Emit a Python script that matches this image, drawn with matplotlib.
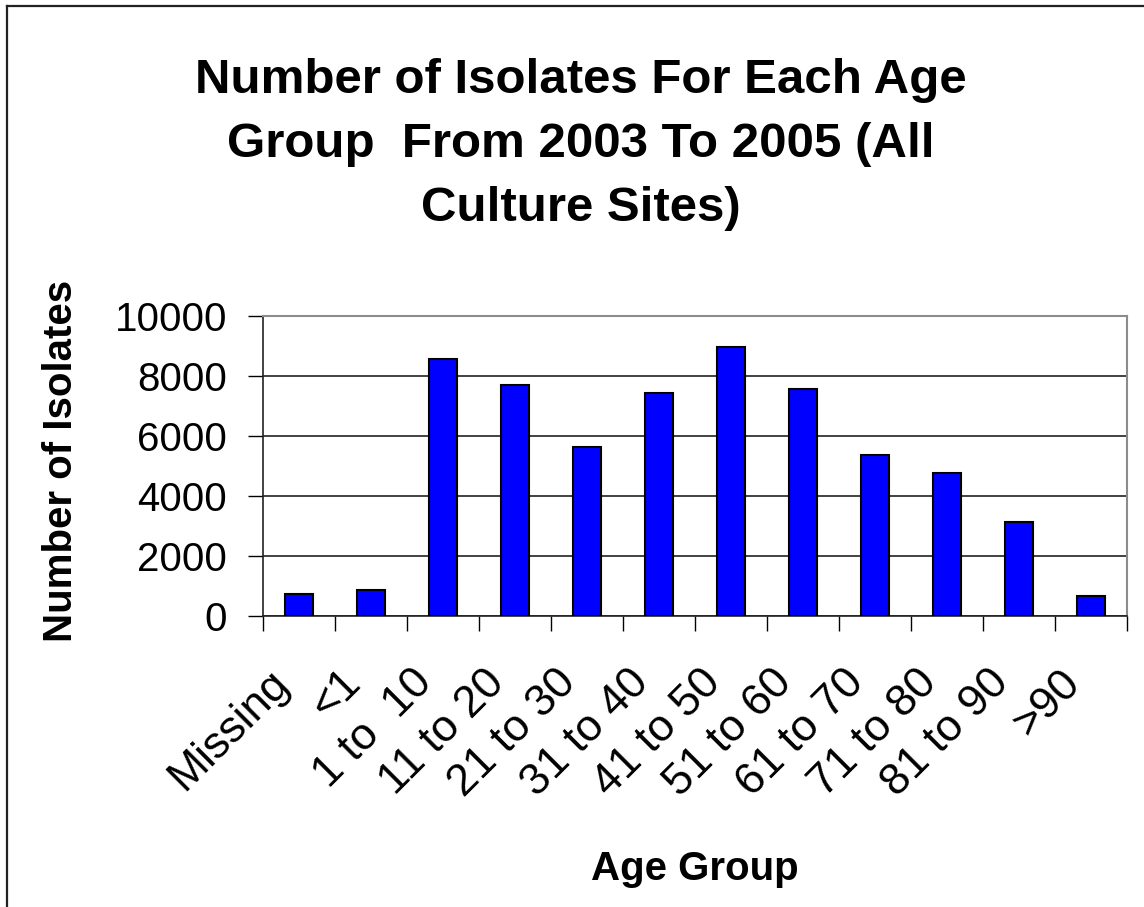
import matplotlib
matplotlib.use("Agg")
import matplotlib.pyplot as plt
import matplotlib.transforms as mtransforms
from matplotlib.lines import Line2D
import numpy as np

# Isolate counts per age group, 2003-2005, all culture sites
age_groups = ["Missing", "<1", "1 to  10", "11 to 20", "21 to 30", "31 to 40",
              "41 to 50", "51 to 60", "61 to 70", "71 to 80", "81 to 90", ">90"]
isolates = [720, 860, 8580, 7700, 5620, 7430, 8980, 7570, 5360, 4760, 3140, 670]
y_ticks = [0, 2000, 4000, 6000, 8000, 10000]

title_lines = ["Number of Isolates For Each Age",
               "Group  From 2003 To 2005 (All",
               "Culture Sites)"]

plt.rcParams["font.family"] = ["Liberation Sans", "DejaVu Sans"]

W, H, DPI = 1144, 907, 100
fig = plt.figure(figsize=(W / DPI, H / DPI), dpi=DPI, facecolor="white")

# chart-area border (left and top edges)
fig.add_artist(Line2D([7 / W, 7 / W], [0, 1 - 6 / H], transform=fig.transFigure,
                      color="#222222", lw=1.6))
fig.add_artist(Line2D([7 / W, 1], [1 - 6 / H, 1 - 6 / H], transform=fig.transFigure,
                      color="#222222", lw=1.6))

# title, three centred lines
for line, base_px in zip(title_lines, [93, 157, 221]):
    fig.text(581 / W, 1 - base_px / H, line, ha="center", va="baseline",
             fontsize=35.5, fontweight="bold")

left, right, top, bottom = 263, 1127, 316, 616
ax = fig.add_axes([left / W, 1 - bottom / H, (right - left) / W, (bottom - top) / H])

x = np.arange(len(age_groups))
ax.bar(x, isolates, width=0.4, color="#0000FF", edgecolor="black", linewidth=1.5,
       zorder=3)

ax.set_xlim(-0.5, len(age_groups) - 0.5)
ax.set_ylim(0, 10000)

ax.set_yticks(y_ticks)
ax.set_yticklabels([str(v) for v in y_ticks], fontsize=29)
ax.tick_params(axis="y", direction="out", length=11, width=1, pad=15)
ax.yaxis.grid(True, color="#222222", linewidth=1.2, zorder=0)

ax.set_xticks(x)
ax.set_xticklabels(age_groups, fontsize=32, rotation=45, ha="right", va="center",
                   rotation_mode="anchor")
ax.tick_params(axis="x", which="major", length=0, pad=45)
# nudge the slanted category labels slightly left of the bar centres
shift = mtransforms.ScaledTranslation(-17 / DPI, 2 / DPI, fig.dpi_scale_trans)
for lbl in ax.get_xticklabels():
    lbl.set_transform(lbl.get_transform() + shift)
ax.set_xticks(np.arange(-0.5, len(age_groups)), minor=True)
ax.tick_params(axis="x", which="minor", direction="out", length=10.5, width=1)

for side in ["top", "right"]:
    ax.spines[side].set_color("#8c8c8c")
    ax.spines[side].set_linewidth(1.5)
for side in ["left", "bottom"]:
    ax.spines[side].set_color("#222222")
    ax.spines[side].set_linewidth(1.2)

fig.text(61 / W, 1 - 461 / H, "Number of Isolates", rotation=90, ha="center",
         va="center", fontsize=29, fontweight="bold")
fig.text(695 / W, 1 - 880 / H, "Age Group", ha="center", va="baseline",
         fontsize=29, fontweight="bold")

fig.savefig("out.png", dpi=DPI, facecolor="white")
